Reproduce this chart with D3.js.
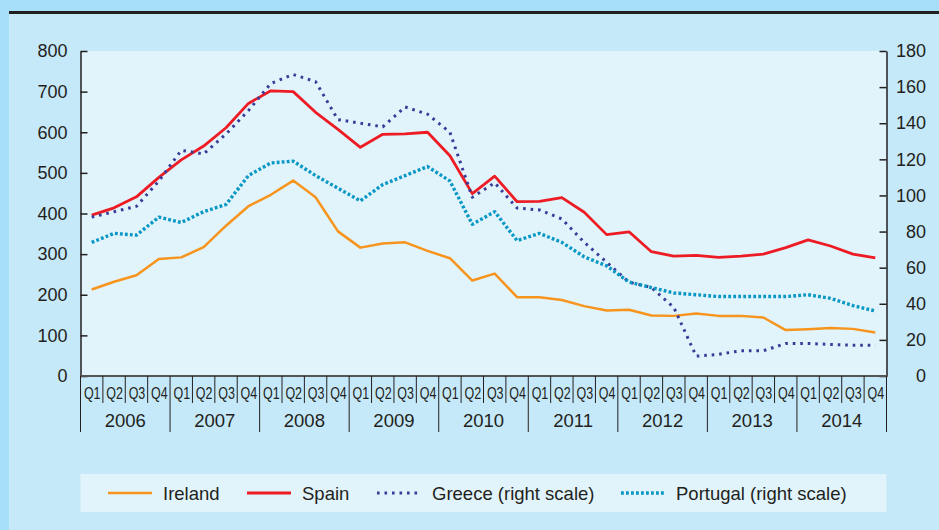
<!DOCTYPE html>
<html>
<head>
<meta charset="utf-8">
<script src="https://cdn.jsdelivr.net/npm/d3@7"></script>
<style>
  body { margin: 0; background: #a7dff8; }
  svg { display: block; font-family: 'Liberation Sans', Arial, sans-serif; }
</style>
</head>
<body>
<script>
// quarterly series, 2006 Q1 .. 2014 Q4
const years = ['2006', '2007', '2008', '2009', '2010', '2011', '2012', '2013', '2014']
const quarters = ['Q1', 'Q2', 'Q3', 'Q4']
const leftTicks = [0, 100, 200, 300, 400, 500, 600, 700, 800]
const rightTicks = [0, 20, 40, 60, 80, 100, 120, 140, 160, 180]

const ireland = [213, 232, 248, 288, 292, 317, 370, 418, 446, 481, 440, 356,
  316, 326, 329, 308, 290, 235, 252, 194, 194, 187, 172, 161,
  163, 149, 148, 154, 148, 148, 144, 113, 115, 118, 116, 107]
const spain = [396, 414, 441, 489, 532, 566, 611, 671, 702, 700, 649, 607,
  563, 595, 596, 600, 542, 449, 492, 429, 430, 439, 403, 348,
  355, 306, 295, 297, 292, 295, 300, 316, 335, 320, 300, 291]
const greece = [88, 91, 94, 108, 125, 123, 134, 147, 162, 167, 163, 142,
  140, 138, 149, 145, 135, 99, 107, 93, 92, 87, 74, 63,
  52, 49, 38, 11, 12, 14, 14, 18, 18, 17.5, 17, 17]
const portugal = [74, 79, 78, 88, 85, 91, 95, 111, 118, 119, 111, 104,
  97, 106, 111, 116, 108, 84, 91, 75, 79, 74, 66, 61,
  52, 49, 46, 45, 44, 44, 44, 44, 45, 43, 39, 36]

const periods = years.flatMap((y) => quarters.map((q) => y + q))

const W = 939
const H = 530
const plotL = 80.5
const plotR = 886.5
const plotT = 51
const plotB = 376
const ink = '#231f20'

const svgEl = d3.create('svg')
  .attr('width', W)
  .attr('height', H)

// backgrounds
svgEl.append('rect').attr('width', W).attr('height', H).attr('fill', '#a7dff8')
svgEl.append('rect').attr('x', 9).attr('y', 14).attr('width', W - 9).attr('height', H - 14).attr('fill', '#c6e9f9')
svgEl.append('line').attr('x1', 9).attr('x2', W).attr('y1', 12.5).attr('y2', 12.5)
  .attr('stroke', ink).attr('stroke-width', 3)
svgEl.append('rect').attr('x', plotL).attr('y', plotT).attr('width', plotR - plotL).attr('height', plotB - plotT)
  .attr('fill', '#e1f4fb')

const xScale = d3.scaleBand().domain(periods).range([plotL, plotR])
const yLeft = d3.scaleLinear().domain([0, 800]).range([plotB, plotT])
const yRight = d3.scaleLinear().domain([0, 180]).range([plotB, plotT])
const xc = (i) => xScale(periods[i]) + xScale.bandwidth() / 2

// left axis
const gl = svgEl.append('g')
  .attr('transform', `translate(${plotL},0)`)
  .call(d3.axisLeft(yLeft).tickValues(leftTicks).tickSizeInner(-7).tickSizeOuter(0).tickPadding(13))
gl.select('.domain').attr('stroke', ink).attr('stroke-width', 1.5)
gl.selectAll('.tick line').attr('stroke', ink).attr('stroke-width', 1.5)
gl.selectAll('.tick text').attr('font-size', 18).attr('fill', ink).attr('font-family', null)

// right axis
const gr = svgEl.append('g')
  .attr('transform', `translate(${plotR},0)`)
  .call(d3.axisRight(yRight).tickValues(rightTicks).tickSizeInner(-7).tickSizeOuter(0))
gr.select('.domain').attr('stroke', ink).attr('stroke-width', 1.5)
gr.selectAll('.tick line').attr('stroke', ink).attr('stroke-width', 1.5)
gr.selectAll('.tick text').attr('font-size', 18).attr('fill', ink).attr('font-family', null)
  .attr('text-anchor', 'end').attr('x', 926 - plotR)

// lines
const series = [
  { name: 'Ireland', values: ireland, scale: yLeft, color: '#f7941d', width: 2.5, dash: null },
  { name: 'Spain', values: spain, scale: yLeft, color: '#ed1c24', width: 2.8, dash: null },
  { name: 'Greece (right scale)', values: greece, scale: yRight, color: '#3a3b98', width: 3, dash: '2.6,4.9' },
  { name: 'Portugal (right scale)', values: portugal, scale: yRight, color: '#0797c4', width: 3.4, dash: '2.8,2.2' },
]

series.forEach((s) => {
  const line = d3.line()
    .x((d, i) => xc(i))
    .y((d) => s.scale(d))
  svgEl.append('path')
    .datum(s.values)
    .attr('d', line)
    .attr('fill', 'none')
    .attr('stroke', s.color)
    .attr('stroke-width', s.width)
    .attr('stroke-linejoin', 'round')
    .attr('stroke-dasharray', s.dash)
})

// category axis: quarters and years
const xg = svgEl.append('g')
xg.append('line').attr('x1', plotL).attr('x2', plotR + 1).attr('y1', plotB).attr('y2', plotB)
  .attr('stroke', '#555').attr('stroke-width', 2)

xg.selectAll('.qsep')
  .data(periods)
  .join('line')
  .attr('x1', (d) => xScale(d)).attr('x2', (d) => xScale(d))
  .attr('y1', plotB).attr('y2', (d) => d.endsWith('Q1') ? 432 : 403)
  .attr('stroke', ink).attr('stroke-width', 1)
xg.append('line').attr('x1', plotR).attr('x2', plotR).attr('y1', plotB).attr('y2', 432)
  .attr('stroke', ink).attr('stroke-width', 1)

xg.selectAll('.qlab')
  .data(periods)
  .join('text')
  .attr('transform', (d) => `translate(${xScale(d) + xScale.bandwidth() / 2 + 0.5},399) scale(0.78,1)`)
  .attr('text-anchor', 'middle')
  .attr('font-size', 16)
  .attr('fill', ink)
  .text((d) => d.slice(4))

xg.selectAll('.ylab')
  .data(years)
  .join('text')
  .attr('x', (d) => xScale(d + 'Q1') + xScale.bandwidth() * 2)
  .attr('y', 427)
  .attr('text-anchor', 'middle')
  .attr('font-size', 18.5)
  .attr('fill', ink)
  .text((d) => d)

// legend
svgEl.append('rect').attr('x', plotL).attr('y', 474).attr('width', plotR - plotL).attr('height', 38)
  .attr('fill', '#e1f4fb')
const legendX = [108, 247, 377, 621]
const lg = svgEl.selectAll('.leg')
  .data(series)
  .join('g')
  .attr('transform', (d, i) => `translate(${legendX[i]},493)`)
lg.append('line')
  .attr('x1', 0).attr('x2', 44)
  .attr('stroke', (d) => d.color)
  .attr('stroke-width', (d) => d.width)
  .attr('stroke-dasharray', (d) => d.dash)
lg.append('text')
  .attr('x', 55)
  .attr('y', 6.5)
  .attr('font-size', 18.5)
  .attr('fill', ink)
  .text((d) => d.name)

document.body.appendChild(svgEl.node())
</script>
</body>
</html>
